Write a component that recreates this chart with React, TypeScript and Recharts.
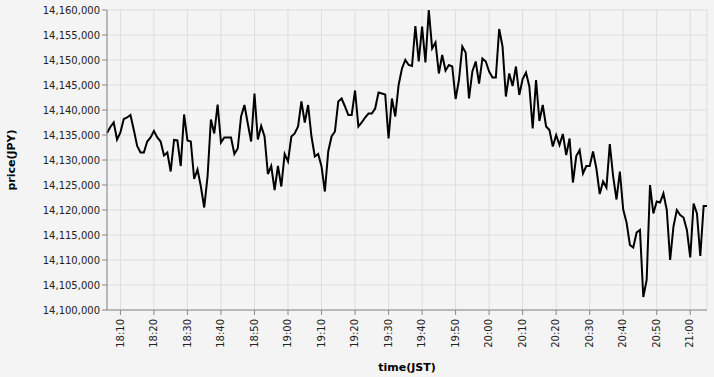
import React from 'react';
import { LineChart, Line, XAxis, YAxis, CartesianGrid, Label } from 'recharts';

// minutes after 18:00 of the first sample (18:06), one sample per minute
const START_MINUTE = 6;

const prices: number[] = [
  14135400, 14136600, 14137500, 14134100, 14135500, 14138200, 14138500, 14139000, 14136000, 14132800,
  14131500, 14131500, 14133700, 14134500, 14135800, 14134500, 14133700, 14130900, 14131500, 14127700,
  14134000, 14133900, 14128800, 14139100, 14133900, 14133700, 14126200, 14128100, 14124700, 14120500,
  14126700, 14138100, 14135300, 14141100, 14133500, 14134500, 14134500, 14134500, 14131200, 14132300,
  14138700, 14141000, 14137300, 14133700, 14143300, 14134100, 14136800, 14134700, 14127200, 14128800,
  14124000, 14128800, 14124700, 14131200, 14129700, 14134700, 14135300, 14136700, 14141700, 14137500,
  14141000, 14134700, 14130700, 14131200, 14128700, 14123700, 14131700, 14134700, 14135700, 14141700,
  14142300, 14140700, 14139000, 14139000, 14143900, 14136700, 14137500, 14138500, 14139300, 14139300,
  14140300, 14143500, 14143300, 14143100, 14134300, 14142300, 14138700, 14145000, 14148300, 14150000,
  14149000, 14148800, 14156800, 14149700, 14156700, 14149500, 14160000, 14152300, 14153500, 14147300,
  14151000, 14147900, 14149000, 14148700, 14142200, 14146000, 14152700, 14151500, 14142300, 14147700,
  14149700, 14145300, 14150300, 14149700, 14147700, 14146500, 14146500, 14156200, 14152700, 14142700,
  14147300, 14144800, 14148700, 14143000, 14146200, 14147500, 14144700, 14136300, 14146000, 14137800,
  14141000, 14136700, 14136000, 14132700, 14135000, 14133000, 14135200, 14131000, 14134300, 14125500,
  14130800, 14132000, 14127300, 14128800, 14128800, 14131700, 14128300, 14123200, 14125700, 14124500,
  14133200, 14126700, 14122100, 14127700, 14120100, 14117500, 14113000, 14112500, 14115500, 14116000,
  14102600, 14106000, 14125000, 14119300, 14121700, 14121500, 14123300, 14120000, 14110000, 14116700,
  14120000, 14119000, 14118500, 14116000, 14110500, 14121300, 14119300, 14110800, 14120800, 14120800,
];

const xTicks: number[] = [10, 20, 30, 40, 50, 60, 70, 80, 90, 100, 110, 120, 130, 140, 150, 160, 170, 180];
const yTicks: number[] = [
  14100000, 14105000, 14110000, 14115000, 14120000, 14125000, 14130000,
  14135000, 14140000, 14145000, 14150000, 14155000, 14160000,
];

const data = prices.map((price, i) => ({ t: START_MINUTE + i, price }));

const FONT = '"DejaVu Sans", sans-serif';

const fmtTime = (m: number) => {
  const h = 18 + Math.floor(m / 60);
  const mm = m % 60;
  return `${h}:${mm < 10 ? '0' : ''}${mm}`;
};

const XTick = (props: any) => {
  const { x, y, payload } = props;
  return (
    <g transform={`translate(${x},${y})`}>
      <text
        transform="rotate(-90)"
        textAnchor="end"
        dy="0.32em"
        fontSize={10}
        fontFamily={FONT}
        fill="#222"
      >
        {fmtTime(payload.value)}
      </text>
    </g>
  );
};

export default function App() {
  return (
    <div style={{ position: 'absolute', left: 0, top: 0, width: 714, height: 377, background: '#f4f4f4' }}>
      <LineChart width={714} height={377} data={data} margin={{ top: 10, right: 7, left: 0, bottom: 0 }}>
        <CartesianGrid stroke="#dddddd" strokeWidth={1} />
        <XAxis
          dataKey="t"
          type="number"
          domain={[START_MINUTE, START_MINUTE + prices.length - 1]}
          ticks={xTicks}
          height={67}
          tickSize={5}
          tickMargin={4}
          axisLine={{ stroke: '#888' }}
          tickLine={{ stroke: '#888' }}
          tick={<XTick />}
          interval={0}
        >
          <Label
            content={(p: any) => {
              const vb = p.viewBox || { x: 107, y: 310, width: 600, height: 67 };
              return (
                <text
                  x={vb.x + vb.width / 2}
                  y={371}
                  textAnchor="middle"
                  fontSize={11}
                  fontWeight="bold"
                  fontFamily={FONT}
                  fill="#000"
                >
                  time(JST)
                </text>
              );
            }}
          />
        </XAxis>
        <YAxis
          type="number"
          domain={[14100000, 14160000]}
          ticks={yTicks}
          width={107}
          tickSize={5}
          tickMargin={2}
          interval={0}
          axisLine={{ stroke: '#888' }}
          tickLine={{ stroke: '#888' }}
          tick={{ fontSize: 10, fontFamily: FONT, fill: '#222' }}
          tickFormatter={(v: number) => v.toLocaleString('en-US')}
        >
          <Label
            content={(p: any) => {
              const vb = p.viewBox || { x: 0, y: 10, width: 107, height: 300 };
              const cx = 15;
              const cy = vb.y + vb.height / 2;
              return (
                <text
                  x={cx}
                  y={cy}
                  transform={`rotate(-90, ${cx}, ${cy})`}
                  textAnchor="middle"
                  fontSize={11}
                  fontWeight="bold"
                  fontFamily={FONT}
                  fill="#000"
                >
                  price(JPY)
                </text>
              );
            }}
          />
        </YAxis>
        <Line
          type="linear"
          dataKey="price"
          stroke="#000"
          strokeWidth={2}
          dot={false}
          activeDot={false}
          isAnimationActive={false}
        />
      </LineChart>
    </div>
  );
}
